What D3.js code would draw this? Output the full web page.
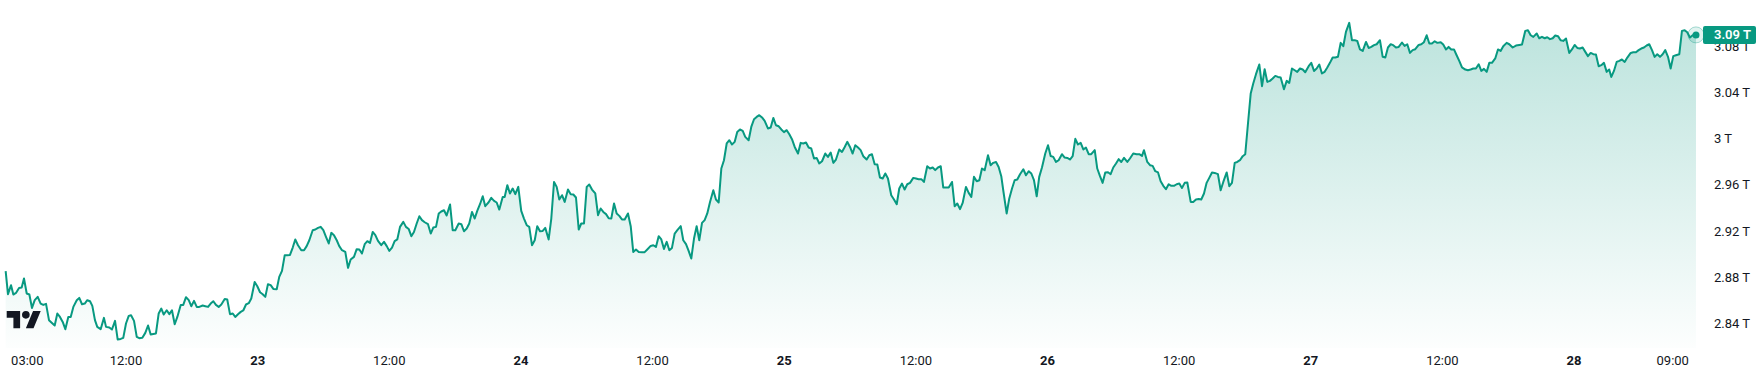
<!DOCTYPE html>
<html>
<head>
<meta charset="utf-8">
<script src="https://cdn.jsdelivr.net/npm/d3@7"></script>
<style>
  html, body { margin: 0; padding: 0; background: #ffffff; }
  svg { display: block; }
  text { font-family: Roboto, "Liberation Sans", "DejaVu Sans", sans-serif; }
</style>
</head>
<body>
<svg id="chart" width="1762" height="386"></svg>
<script>
// hours since 22nd 00:00 (15-minute samples)
const hours = [
1.03,1.24,1.52,1.73,1.97,2.25,2.49,2.70,2.95,3.19,
3.43,3.68,3.95,4.22,4.46,4.71,4.98,5.25,5.50,5.74,
5.98,6.23,6.47,6.74,6.96,7.20,7.51,7.74,7.99,8.24,
8.47,8.72,8.93,9.17,9.38,9.69,9.99,10.18,10.48,10.72,
11.00,11.24,11.52,11.75,12.00,12.25,12.46,12.73,12.98,13.21,
13.49,13.76,14.01,14.25,14.49,14.73,14.98,15.22,15.44,15.71,
15.95,16.19,16.44,16.68,16.99,17.22,17.47,17.72,17.95,18.20,
18.45,18.68,18.99,19.23,19.48,19.72,19.96,20.20,20.45,20.69,
21.00,21.23,21.48,21.73,21.96,22.21,22.46,22.69,22.94,23.19,
23.42,23.73,23.97,24.22,24.46,24.70,24.94,25.19,25.43,25.74,
25.97,26.22,26.47,26.70,26.95,27.20,27.43,27.68,27.98,28.23,
28.47,28.71,29.02,29.26,29.50,29.75,29.99,30.23,30.48,30.72,
30.96,31.21,31.44,31.69,31.99,32.24,32.48,32.78,33.03,33.27,
33.51,33.76,34.00,34.24,34.49,34.73,34.97,35.27,35.52,35.77,
36.00,36.25,36.49,36.73,36.98,37.28,37.52,37.77,38.01,38.25,
38.50,38.74,38.98,39.23,39.53,39.78,40.01,40.26,40.51,40.74,
40.99,41.23,41.54,41.78,42.02,42.33,42.57,42.81,43.06,43.29,
43.54,43.79,44.02,44.27,44.52,44.75,45.06,45.30,45.55,45.79,46.03,
46.34,46.52,46.76,47.00,47.25,47.49,47.76,48.03,48.28,
48.53,48.76,49.01,49.26,49.49,49.74,49.99,50.22,50.53,50.77,
51.02,51.26,51.50,51.75,51.99,52.29,52.54,52.78,53.02,53.27,
53.50,53.75,54.00,54.23,54.48,54.78,55.03,55.27,55.51,55.76,
56.00,56.24,56.49,56.73,56.97,57.21,57.46,57.76,58.01,58.24,
58.49,58.74,59.04,59.28,59.52,59.83,60.07,60.31,60.56,60.80,
61.04,61.29,61.53,61.77,62.02,62.26,62.57,62.80,63.05,63.29,
63.53,63.78,64.02,64.26,64.51,64.75,64.99,65.24,65.54,65.78,
66.03,66.27,66.51,66.76,67.00,67.24,67.49,67.72,67.97,68.22,
68.45,68.76,69.00,69.25,69.49,69.73,69.98,70.22,70.52,70.77,
71.01,71.25,71.50,71.74,71.98,72.23,72.47,72.71,72.96,73.26,
73.50,73.74,73.99,74.23,74.47,74.72,74.96,75.20,75.45,75.75,
75.99,76.24,76.48,76.72,77.02,77.27,77.52,77.75,78.00,78.24,
78.48,78.73,78.97,79.21,79.52,79.76,80.00,80.25,80.49,80.73,
80.98,81.22,81.46,81.76,82.01,82.26,82.49,82.74,82.98,83.22,
83.47,83.77,84.01,84.26,84.50,84.74,85.04,85.29,85.54,85.77,
86.02,86.27,86.50,86.75,87.00,87.30,87.54,87.78,88.03,88.27,
88.57,88.82,89.06,89.30,89.55,89.79,90.03,90.28,90.58,90.82,
91.06,91.31,91.55,91.79,91.97,92.28,92.52,92.77,93.01,93.25,
93.50,93.80,94.04,94.29,94.53,94.77,95.02,95.25,95.50,95.80,
96.05,96.29,96.53,96.78,97.02,97.32,97.57,97.81,98.05,98.30,
98.54,98.78,99.03,99.27,99.51,99.76,99.99,100.31,100.54,100.79,
101.03,101.27,101.52,101.76,102.00,102.25,102.49,102.73,102.98,103.28,
103.52,103.82,104.13,104.37,104.62,104.80,105.10,105.35,105.59,105.83,
106.08,106.32,106.56,106.80,107.05,107.29,107.53,107.78,108.02,108.26,
108.51,108.75,109.06,109.29,109.54,109.79,110.02,110.27,110.51,110.75,
111.00,111.24,111.54,111.79,112.03,112.34,112.58,112.82,113.07,113.30,
113.55,113.80,114.03,114.28,114.53,114.76,115.01,115.31,115.56,115.80,
116.04,116.28,116.53,116.77,117.01,117.26,117.56,117.81,118.04,118.29,
118.54,118.77,119.02,119.27,119.50,119.81,120.05,120.30,120.54,120.78,
121.02,121.27,121.51,121.75,122.00,122.24,122.48,122.73,122.97,123.21,
123.51,123.76,124.01,124.24,124.49,124.74,125.04,125.28,125.52,125.77,
126.01,126.31,126.56,126.80,127.04,127.29,127.52,127.77,128.02,128.32,
128.56,128.80,129.05,129.29,129.53,129.84,130.08,130.32,130.57,130.81,
131.05,131.30,131.54,131.85,132.08,132.33,132.57,132.81,133.06,133.30,
133.54,133.79,134.09,134.33,134.58,134.82,135.06,135.31,135.55,135.79,
136.04,136.28,136.52,136.82,137.07,
137.31,137.55,137.86,138.10,138.41,
138.71,139.01,139.26,139.56,139.80,140.05,140.29,140.60,140.83,141.08,
141.33,141.56,141.81,142.06,142.29,142.54,142.78,143.02,143.27,143.57,
143.81,144.06,144.30,144.54,144.79,145.03,145.27,145.52,145.76,146.00,
146.25,146.49,146.73,146.98,147.21,147.40,147.64,147.89,148.13,148.37,
148.62,148.86,149.17,149.40,149.65,149.89,150.13,150.38,150.62,150.86,
151.11,151.35,151.59,151.84,152.08,152.32,152.57,152.81,153.05,153.29,
153.60,153.84,154.09,154.32,154.57,154.82,155.12
];

// market cap, trillions
const values = [
2.8851,2.8652,2.8730,2.8649,2.8663,2.8706,2.8710,2.8788,2.8658,2.8649,
2.8533,2.8600,2.8629,2.8571,2.8559,2.8568,2.8427,2.8403,2.8381,2.8485,
2.8455,2.8412,2.8349,2.8455,2.8455,2.8542,2.8600,2.8620,2.8565,2.8571,
2.8600,2.8591,2.8551,2.8427,2.8369,2.8349,2.8447,2.8369,2.8364,2.8346,
2.8421,2.8260,2.8265,2.8274,2.8398,2.8464,2.8470,2.8421,2.8282,2.8271,
2.8274,2.8317,2.8381,2.8303,2.8308,2.8312,2.8485,2.8528,2.8476,2.8513,
2.8479,2.8513,2.8392,2.8455,2.8559,2.8559,2.8626,2.8600,2.8548,2.8594,
2.8542,2.8542,2.8554,2.8548,2.8542,2.8571,2.8591,2.8559,2.8542,2.8563,
2.8611,2.8606,2.8479,2.8485,2.8455,2.8479,2.8499,2.8511,2.8563,2.8574,
2.8615,2.8758,2.8721,2.8669,2.8652,2.8629,2.8739,2.8730,2.8698,2.8695,
2.8802,2.8854,2.8990,2.8990,2.8992,2.9056,2.9126,2.9076,2.9033,2.9033,
2.9068,2.9119,2.9206,2.9212,2.9226,2.9235,2.9206,2.9148,2.9091,2.9183,
2.9163,2.9119,2.9068,2.9033,2.9018,2.8880,2.8952,2.8975,2.9042,2.9039,
2.9004,2.9085,2.9111,2.9096,2.9191,2.9163,2.9113,2.9076,2.9105,2.9068,
2.9027,2.9056,2.9111,2.9126,2.9235,2.9278,2.9235,2.9217,2.9154,2.9191,
2.9264,2.9327,2.9293,2.9275,2.9258,2.9177,2.9229,2.9235,2.9351,2.9368,
2.9379,2.9333,2.9429,2.9206,2.9206,2.9264,2.9258,2.9197,2.9221,2.9264,
2.9364,2.9307,2.9373,2.9431,2.9500,2.9414,2.9448,2.9486,2.9460,2.9446,2.9385,
2.9494,2.9494,2.9596,2.9524,2.9567,2.9518,2.9581,2.9373,2.9307,
2.9249,2.9235,2.9076,2.9119,2.9241,2.9197,2.9200,2.9226,2.9126,2.9307,
2.9624,2.9581,2.9472,2.9509,2.9451,2.9558,2.9518,2.9515,2.9489,2.9212,
2.9264,2.9264,2.9581,2.9602,2.9558,2.9524,2.9336,2.9394,2.9364,2.9345,
2.9310,2.9307,2.9437,2.9351,2.9330,2.9299,2.9299,2.9351,2.9241,2.9018,
2.9039,2.9018,2.9016,2.9016,2.9039,2.9070,2.9076,2.9061,2.9154,2.9126,
2.9044,2.9105,2.9033,2.9053,2.9177,2.9206,2.9241,2.9119,2.9085,2.9027,
2.8961,2.9134,2.9241,2.9119,2.9269,2.9293,2.9351,2.9451,2.9552,2.9472,
2.9446,2.9740,2.9812,2.9957,2.9985,2.9948,2.9971,3.0057,3.0078,3.0066,
3.0014,2.9985,3.0100,3.0167,3.0187,3.0202,3.0182,3.0152,3.0087,3.0095,
3.0178,3.0115,3.0106,3.0078,3.0055,3.0072,3.0037,2.9994,2.9927,2.9870,
2.9962,2.9957,2.9965,2.9922,2.9913,2.9827,2.9832,2.9784,2.9803,2.9870,
2.9841,2.9879,2.9789,2.9818,2.9905,2.9884,2.9927,2.9971,2.9927,2.9870,
2.9942,2.9922,2.9899,2.9847,2.9818,2.9855,2.9864,2.9777,2.9775,2.9662,
2.9654,2.9697,2.9654,2.9509,2.9472,2.9431,2.9567,2.9610,2.9558,2.9604,
2.9616,2.9659,2.9654,2.9648,2.9648,2.9624,2.9760,2.9740,2.9749,2.9726,
2.9749,2.9760,2.9576,2.9576,2.9576,2.9624,2.9414,2.9437,2.9388,2.9442,
2.9581,2.9529,2.9494,2.9668,2.9630,2.9639,2.9740,2.9726,2.9855,2.9769,
2.9789,2.9797,2.9754,2.9674,2.9552,2.9351,2.9481,2.9567,2.9639,2.9645,
2.9691,2.9734,2.9682,2.9717,2.9697,2.9639,2.9500,2.9668,2.9749,2.9870,
2.9942,2.9849,2.9841,2.9797,2.9812,2.9864,2.9835,2.9832,2.9818,2.9847,
2.9997,2.9948,2.9962,2.9905,2.9922,2.9864,2.9864,2.9899,2.9740,2.9674,
2.9616,2.9706,2.9708,2.9691,2.9749,2.9784,2.9821,2.9797,2.9832,2.9797,
2.9827,2.9870,2.9864,2.9864,2.9849,2.9899,2.9797,2.9769,2.9763,2.9717,
2.9706,2.9630,2.9590,2.9561,2.9604,2.9590,2.9590,2.9604,2.9610,2.9572,
2.9616,2.9619,2.9451,2.9451,2.9472,2.9477,2.9472,2.9524,2.9616,2.9659,
2.9706,2.9702,2.9691,2.9552,2.9624,2.9706,2.9587,2.9616,2.9789,2.9797,
2.9812,2.9847,2.9864,3.0130,3.0390,3.0476,3.0557,3.0641,3.0453,3.0600,
3.0490,3.0499,3.0519,3.0542,3.0533,3.0528,3.0427,3.0499,3.0481,3.0606,
3.0591,3.0577,3.0606,3.0597,3.0574,3.0626,3.0655,3.0585,3.0606,3.0641,
3.0563,3.0577,3.0615,3.0655,3.0701,3.0701,3.0707,3.0828,3.0799,3.0923,
3.1001,3.0851,3.0851,3.0845,3.0771,3.0758,3.0836,3.0784,3.0793,3.0808,
3.0816,3.0851,3.0707,3.0701,3.0788,3.0816,3.0808,3.0788,3.0793,3.0831,
3.0802,3.0816,3.0741,3.0765,3.0773,3.0810,3.0816,3.0834,3.0894,3.0823,
3.0823,3.0842,3.0828,3.0834,3.0814,3.0771,3.0793,3.0771,3.0771,3.0721,
3.0672,3.0615,3.0597,3.0591,3.0597,3.0606,3.0606,3.0643,3.0585,3.0603,
3.0577,3.0655,3.0655,3.0693,3.0771,
3.0758,3.0799,3.0828,3.0816,3.0788,
3.0805,3.0810,3.0814,3.0932,3.0938,3.0894,3.0880,3.0909,3.0868,3.0880,
3.0868,3.0877,3.0860,3.0868,3.0892,3.0886,3.0851,3.0845,3.0866,3.0741,
3.0771,3.0810,3.0784,3.0779,3.0788,3.0750,3.0713,3.0741,3.0730,3.0727,
3.0626,3.0635,3.0655,3.0577,3.0597,3.0533,3.0585,3.0663,3.0672,3.0684,
3.0663,3.0701,3.0741,3.0747,3.0747,3.0765,3.0779,3.0788,3.0805,3.0816,
3.0765,3.0707,3.0730,3.0707,3.0730,3.0765,3.0707,3.0606,3.0713,3.0721,
3.0730,3.0932,3.0938,3.0920,3.0874,3.0894,3.0897
];

const yTicks = [2.84, 2.88, 2.92, 2.96, 3.00, 3.04, 3.08];
const yTickLabels = ["2.84 T", "2.88 T", "2.92 T", "2.96 T", "3 T", "3.04 T", "3.08 T"];
const xTickHours = [3, 12, 24, 36, 48, 60, 72, 84, 96, 108, 120, 132, 144, 153];
const xTickLabels = ["03:00", "12:00", "23", "12:00", "24", "12:00", "25", "12:00", "26", "12:00", "27", "12:00", "28", "09:00"];
const lastLabel = "3.09 T";

const color = "#089981";
const textColor = "#131722";

const svg = d3.select("#chart");
const paneBottom = 348;

const x = d3.scaleLinear().domain([12, 144]).range([126, 1574]);
const y = d3.scaleLinear().domain([2.84, 3.08]).range([323.3, 46.1]);

const n = Math.min(hours.length, values.length);
const data = d3.range(n).map(i => ({ h: hours[i], v: values[i] }));

// gradient
const defs = svg.append("defs");
const grad = defs.append("linearGradient")
  .attr("id", "areaGrad")
  .attr("gradientUnits", "userSpaceOnUse")
  .attr("x1", 0).attr("y1", 0).attr("x2", 0).attr("y2", paneBottom);
grad.append("stop").attr("offset", 0).attr("stop-color", color).attr("stop-opacity", 0.29);
grad.append("stop").attr("offset", 1).attr("stop-color", color).attr("stop-opacity", 0.01);

const area = d3.area()
  .x(d => x(d.h))
  .y0(paneBottom)
  .y1(d => y(d.v));
const line = d3.line()
  .x(d => x(d.h))
  .y(d => y(d.v));

svg.append("path").datum(data)
  .attr("d", area)
  .attr("fill", "url(#areaGrad)");

svg.append("path").datum(data)
  .attr("d", line)
  .attr("fill", "none")
  .attr("stroke", color)
  .attr("stroke-width", 2)
  .attr("stroke-linejoin", "round");

// last point marker
const last = data[data.length - 1];
svg.append("circle")
  .attr("cx", x(last.h)).attr("cy", y(last.v)).attr("r", 8)
  .attr("fill", color).attr("fill-opacity", 0.12)
  .attr("stroke", color).attr("stroke-opacity", 0.35).attr("stroke-width", 1);
svg.append("circle")
  .attr("cx", x(last.h)).attr("cy", y(last.v)).attr("r", 3.5)
  .attr("fill", color);

// y axis labels (right)
const yAxis = svg.append("g").attr("class", "y-axis");
yAxis.selectAll("text").data(yTicks).join("text")
  .attr("x", 1714)
  .attr("y", d => y(d) + 4.6)
  .attr("font-size", 13)
  .attr("fill", textColor)
  .text((d, i) => yTickLabels[i]);

// last value label
const ly = y(last.v);
svg.append("rect")
  .attr("x", 1703).attr("y", ly - 9).attr("width", 53).attr("height", 18)
  .attr("rx", 2).attr("fill", color);
svg.append("text")
  .attr("x", 1714).attr("y", ly + 4.6)
  .attr("font-size", 13).attr("font-weight", 600)
  .attr("fill", "#ffffff")
  .text(lastLabel);

// x axis labels
const xAxis = svg.append("g").attr("class", "x-axis");
xAxis.selectAll("text").data(xTickHours).join("text")
  .attr("x", d => x(d))
  .attr("y", 365)
  .attr("text-anchor", "middle")
  .attr("font-size", 13)
  .attr("font-weight", (d, i) => /:/.test(xTickLabels[i]) ? 400 : 700)
  .attr("fill", textColor)
  .text((d, i) => xTickLabels[i]);

// TradingView logo
const logo = svg.append("g")
  .attr("transform", "translate(6.7,307.2) scale(0.958)")
  .attr("fill", textColor);
logo.append("path").attr("d", "M14 22H7V11H0V4h14v18zM28 22h-8l7.5-18h8L28 22z");
logo.append("circle").attr("cx", 20).attr("cy", 8).attr("r", 4);
</script>
</body>
</html>
